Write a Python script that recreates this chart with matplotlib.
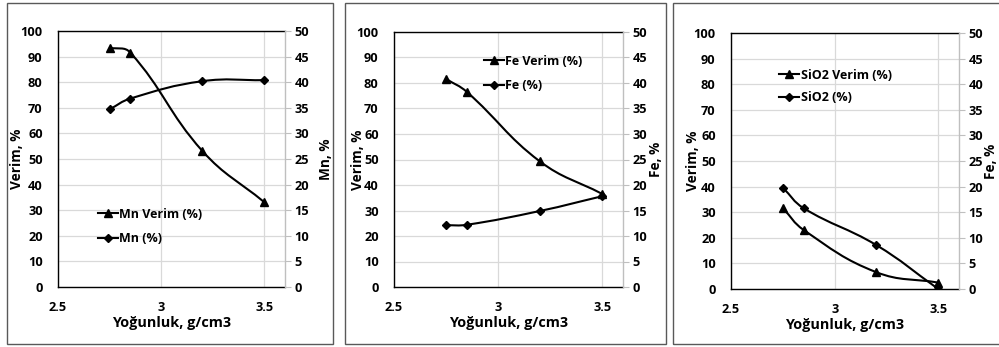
import matplotlib
matplotlib.use("Agg")
import matplotlib.pyplot as plt
from matplotlib.path import Path
from matplotlib.patches import PathPatch, Rectangle
from matplotlib.lines import Line2D
import numpy as np

plt.rcParams['font.family'] = ['Open Sans', 'DejaVu Sans']
plt.rcParams['font.weight'] = 'bold'

# ---- data ----
density = [2.75, 2.85, 3.2, 3.5]
mn_verim = [93.5, 91.6, 53.1, 33.1]
mn_pct = [34.7, 36.8, 40.2, 40.4]
fe_verim = [81.6, 76.5, 49.3, 36.5]
fe_pct = [12.1, 12.2, 14.9, 17.8]
sio2_verim = [31.6, 23.1, 6.6, 2.5]
sio2_pct = [19.8, 15.8, 8.6, 0.0]

panels = [
    dict(v=mn_verim, p=mn_pct, lv="Mn Verim (%)", lp="Mn (%)", rlabel="Mn, %",
         rect=(58, 31, 227, 256), leg=(0.155, 0.33), border=(7, 3, 326, 341),
         ylx=-0.15, rlx=1.15, ls=0.95),
    dict(v=fe_verim, p=fe_pct, lv="Fe Verim (%)", lp="Fe (%)", rlabel="Fe, %",
         rect=(394, 32, 229, 255), leg=(0.37, 0.93), border=(345, 3, 321, 341),
         ylx=-0.127, rlx=1.114, ls=0.9),
    dict(v=sio2_verim, p=sio2_pct, lv="SiO2 Verim (%)", lp="SiO2 (%)", rlabel="Fe, %",
         rect=(731, 33, 228, 256), leg=(0.19, 0.88), border=(673, 3, 340, 341),
         ylx=-0.136, rlx=1.108, ls=0.75),
]

W, H = 999, 347
fig = plt.figure(figsize=(W / 100, H / 100), dpi=100)


def smooth_path(axis, xs, ys, f=0.42):
    """Smoothed (Excel-like) Bezier path through the points, built in display space."""
    pts = axis.transData.transform(np.column_stack([xs, ys]).astype(float))
    n = len(pts)
    d = [np.hypot(*(pts[i + 1] - pts[i])) for i in range(n - 1)]
    verts = [pts[0]]
    codes = [Path.MOVETO]
    for i in range(n - 1):
        p1, p2 = pts[i], pts[i + 1]
        if i == 0:
            c1 = p1 + (p2 - p1) * f
        else:
            w = d[i] / (d[i - 1] + d[i])
            c1 = p1 + (p2 - pts[i - 1]) * f * w
        if i + 2 >= n:
            c2 = p2 - (p2 - p1) * f
        else:
            w = d[i] / (d[i] + d[i + 1])
            c2 = p2 - (pts[i + 2] - p1) * f * w
        verts += [c1, c2, p2]
        codes += [Path.CURVE4] * 3
    verts = axis.transData.inverted().transform(np.array(verts))
    return Path(verts, codes)


LW = 1.5
FS = 9.2
for pn in panels:
    l, t, w, h = pn['rect']
    ax = fig.add_axes([l / W, (H - t - h) / H, w / W, h / H])
    ax2 = ax.twinx()
    ax.set_xlim(2.5, 3.6)
    ax.set_ylim(0, 100)
    ax2.set_ylim(0, 50)
    ax.set_xticks([2.5, 3.0, 3.5])
    ax.set_xticklabels(['2.5', '3', '3.5'])
    ax.set_yticks(range(0, 101, 10))
    ax2.set_yticks(range(0, 51, 5))
    ax.grid(True, color='#d9d9d9', linewidth=0.9)
    ax.set_axisbelow(True)
    for s in ['left', 'bottom', 'top']:
        ax.spines[s].set_color('black')
        ax.spines[s].set_linewidth(1.0)
    ax.spines['right'].set_visible(False)
    for s in ['left', 'bottom', 'top']:
        ax2.spines[s].set_visible(False)
    ax2.spines['right'].set_color('#bfbfbf')
    ax2.spines['right'].set_linewidth(1.0)
    ax.tick_params(axis='y', length=0, pad=11, labelsize=FS)
    ax.tick_params(axis='x', length=0, pad=10, labelsize=FS)
    ax2.tick_params(axis='y', length=4, color='#bfbfbf', pad=3, labelsize=FS)
    for lab in ax.get_xticklabels() + ax.get_yticklabels() + ax2.get_yticklabels():
        lab.set_fontweight('bold')

    ax.add_patch(PathPatch(smooth_path(ax, density, pn['v']), fill=False,
                           edgecolor='black', linewidth=LW, zorder=3))
    ax.plot(density, pn['v'], linestyle='none', marker='^', color='black',
            markersize=6, zorder=4)
    ax2.add_patch(PathPatch(smooth_path(ax2, density, pn['p']), fill=False,
                            edgecolor='black', linewidth=LW, zorder=3))
    ax2.plot(density, pn['p'], linestyle='none', marker='D', color='black',
             markersize=4.5, zorder=4)

    ax.set_xlabel('Yoğunluk, g/cm3', fontsize=10.4, fontweight='bold')
    ax.xaxis.set_label_coords(0.5, -0.113)
    ax.set_ylabel('Verim, %', fontsize=9.8, fontweight='bold')
    ax.yaxis.set_label_coords(pn['ylx'], 0.5)
    ax2.set_ylabel(pn['rlabel'], fontsize=9.8, fontweight='bold')
    ax2.yaxis.set_label_coords(pn['rlx'], 0.5)

    h1 = Line2D([], [], color='black', lw=LW, marker='^', markersize=6)
    h2 = Line2D([], [], color='black', lw=LW, marker='D', markersize=4.5)
    ax2.legend([h1, h2], [pn['lv'], pn['lp']], loc='upper left',
               bbox_to_anchor=pn['leg'], frameon=False, handlelength=1.6,
               handletextpad=0.1, labelspacing=pn['ls'], borderaxespad=0,
               prop=dict(size=9, weight='bold'))

    bx, by, bw, bh = pn['border']
    fig.add_artist(Rectangle((bx / W, (H - by - bh) / H), bw / W, bh / H,
                             transform=fig.transFigure, fill=False,
                             edgecolor='#595959', linewidth=1.0))

fig.savefig('out.png', dpi=100)
